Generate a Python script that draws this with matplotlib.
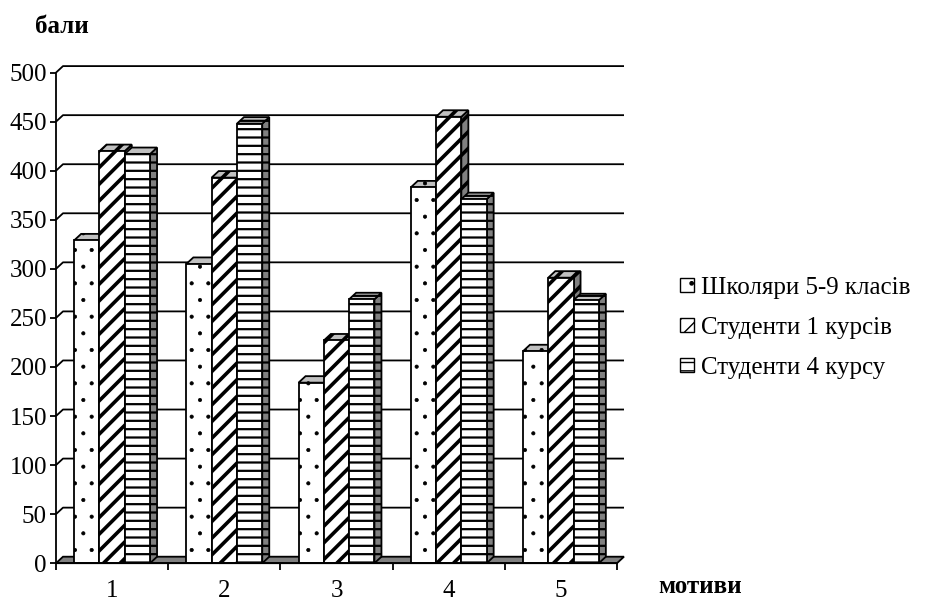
import matplotlib
matplotlib.use('Agg')
import matplotlib.pyplot as plt
from matplotlib.patches import Polygon, Patch
import numpy as np

# ---- data ----
categories = ['1', '2', '3', '4', '5']
series_names = ['Школяри 5-9 класів', 'Студенти 1 курсів', 'Студенти 4 курсу']
schoolchildren = [329, 305, 184, 383, 216]
students_1 = [420, 393, 227, 455, 291]
students_4 = [417, 448, 269, 371, 268]
y_ticks = [0, 50, 100, 150, 200, 250, 300, 350, 400, 450, 500]
y_label = 'бали'
x_label = 'мотиви'

series_values = [schoolchildren, students_1, students_4]
hatches = ['.', '//', '--']
hatch_lw = [0.5, 2.6, 1.6]

plt.rcParams['font.family'] = ['Liberation Serif', 'DejaVu Serif']
FS = 18

W, H = 941, 602
fig = plt.figure(figsize=(W / 100, H / 100), dpi=100)
ax = fig.add_axes([56 / W, 38.8 / H, 561 / W, 490.6 / H])
ax.set_xlim(0.5, 5.5)
ax.set_ylim(0, 500)
DX = 7 * 5 / 561
DY = 6.5 * 500 / 490.6
LW = 1.3

for s in ['top', 'right']:
    ax.spines[s].set_visible(False)
ax.spines['left'].set_linewidth(LW)
ax.spines['bottom'].set_linewidth(LW)
ax.spines['left'].set_zorder(50)
ax.spines['bottom'].set_zorder(50)

ax.set_yticks(y_ticks)
ax.tick_params(axis='y', direction='out', length=4.5, width=LW, pad=2, labelsize=FS)
xpos = np.arange(1, len(categories) + 1)
ax.set_xticks(np.arange(0.5, len(categories) + 1, 1.0))
ax.set_xticklabels([])
ax.set_xticks(xpos, minor=True)
ax.set_xticklabels(categories, minor=True)
ax.tick_params(axis='x', which='major', direction='out', length=5, width=LW)
ax.tick_params(axis='x', which='minor', length=0, pad=12, labelsize=FS)

# back wall grid lines + left wall slants
for v in y_ticks[1:]:
    ax.plot([0.5, 0.5 + DX, 5.5 + DX], [v, v + DY, v + DY], color='black', lw=LW,
            zorder=1, clip_on=False, solid_capstyle='butt')

# floor
floor = Polygon([(0.5, 0), (5.5, 0), (5.5 + DX, DY), (0.5 + DX, DY)], closed=True,
                facecolor='#808080', edgecolor='black', lw=LW, zorder=2, clip_on=False)
ax.add_patch(floor)

w = 0.2255
for i, vals in enumerate(series_values):
    with plt.rc_context({'hatch.linewidth': hatch_lw[i]}):
        bars = ax.bar(xpos + (i - 1) * w, vals, width=w, facecolor='white',
                      edgecolor='black', hatch=hatches[i], lw=LW)
        for g, rect in enumerate(bars):
            z = 3 + (g * 3 + i) * 0.1
            rect.set_zorder(z)
            rect.set_clip_on(False)
            x0 = rect.get_x()
            x1 = x0 + rect.get_width()
            h = rect.get_height()
            side = Polygon([(x1, 0), (x1 + DX, DY), (x1 + DX, h + DY), (x1, h)], closed=True,
                           facecolor='#808080', edgecolor='black', hatch=hatches[i],
                           lw=LW, zorder=z - 0.01, clip_on=False)
            top = Polygon([(x0, h), (x1, h), (x1 + DX, h + DY), (x0 + DX, h + DY)], closed=True,
                          facecolor='#c0c0c0', edgecolor='black', hatch=hatches[i],
                          lw=LW, zorder=z - 0.01, clip_on=False)
            ax.add_patch(side)
            ax.add_patch(top)

# legend
handles = []
for i in range(3):
    with plt.rc_context({'hatch.linewidth': hatch_lw[i] * 0.6}):
        handles.append(Patch(facecolor='white', edgecolor='black', hatch=hatches[i], lw=1.0))
fig.legend(handles, series_names, loc='center left', bbox_to_anchor=(680 / W, 1 - 328 / H),
           frameon=False, fontsize=FS, handlelength=0.55, handleheight=0.45,
           handletextpad=0.28, labelspacing=0.72, borderpad=0, borderaxespad=0)

fig.text(35 / W, 1 - 33 / H, y_label, fontsize=FS, fontweight='bold', ha='left', va='baseline')
fig.text(658 / W, 1 - 593 / H, x_label, fontsize=FS, fontweight='bold', ha='left', va='baseline')

fig.savefig('out.png', dpi=100)
